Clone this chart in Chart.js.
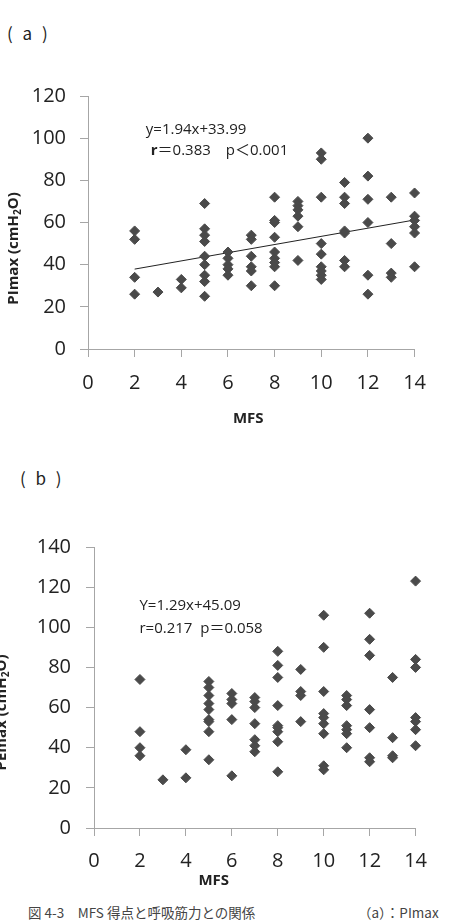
<!DOCTYPE html>
<html lang="ja">
<head>
<meta charset="utf-8">
<script src="https://cdn.jsdelivr.net/npm/chart.js@4.4.1/dist/chart.umd.min.js"></script>
<style>
  html, body { margin: 0; padding: 0; background: #fff; }
  body { width: 465px; height: 924px; position: relative; overflow: hidden; font-family: "Noto Sans CJK JP", sans-serif; }
  .panel { position: absolute; font-size: 17px; color: #222; letter-spacing: 3px; }
  #wrapA { position: absolute; left: 0; top: 70px; width: 440px; height: 370px; }
  #wrapB { position: absolute; left: -12px; top: 520px; width: 452px; height: 380px; }
  .caption { position: absolute; top: 902px; font-size: 13.5px; color: #444; white-space: nowrap; }
</style>
</head>
<body>
<div class="panel" style="left:7px; top:20px;">( a )</div>
<div class="panel" style="left:20px; top:465px;">( b )</div>
<div id="wrapA"><canvas id="chartA" width="440" height="370"></canvas></div>
<div id="wrapB"><canvas id="chartB" width="452" height="380"></canvas></div>
<div class="caption" style="left:28px;">図 4-3　MFS 得点と呼吸筋力との関係</div>
<div class="caption" style="left:358px;">（a）：PImax</div>
<script>
// (a) MFS score vs PImax, one entry per subject
const mfsA = [
  2, 2, 2, 2,
  3,
  4, 4,
  5, 5, 5, 5, 5, 5, 5, 5, 5,
  6, 6, 6, 6, 6,
  7, 7, 7, 7, 7, 7,
  8, 8, 8, 8, 8, 8, 8, 8, 8,
  9, 9, 9, 9, 9, 9,
  10, 10, 10, 10, 10, 10, 10, 10, 10,
  11, 11, 11, 11, 11, 11, 11,
  12, 12, 12, 12, 12, 12,
  13, 13, 13, 13,
  14, 14, 14, 14, 14, 14
];
const piMax = [
  56, 52, 34, 26,
  27,
  33, 29,
  69, 57, 54, 51, 44, 40, 35, 32, 25,
  46, 43, 40, 38, 35,
  54, 52, 44, 39, 37, 30,
  72, 61, 60, 53, 46, 43, 41, 39, 30,
  70, 68, 66, 63, 58, 42,
  93, 90, 72, 50, 45, 39, 37, 35, 33,
  79, 72, 69, 56, 55, 42, 39,
  100, 82, 71, 60, 35, 26,
  72, 50, 36, 34,
  74, 63, 61, 58, 55, 39
];
// regression line ends for (a)
const trendX = [2, 14];
const trendY = [37.9, 61.2];

// (b) MFS score vs PEmax
const mfsB = [
  2, 2, 2, 2,
  3,
  4, 4,
  5, 5, 5, 5, 5, 5, 5, 5, 5,
  6, 6, 6, 6, 6,
  7, 7, 7, 7, 7, 7, 7,
  8, 8, 8, 8, 8, 8, 8, 8, 8,
  9, 9, 9, 9,
  10, 10, 10, 10, 10, 10, 10, 10, 10,
  11, 11, 11, 11, 11, 11, 11,
  12, 12, 12, 12, 12, 12, 12,
  13, 13, 13, 13,
  14, 14, 14, 14, 14, 14, 14
];
const peMax = [
  74, 48, 40, 36,
  24,
  39, 25,
  73, 70, 66, 62, 59, 54, 53, 48, 34,
  67, 64, 62, 54, 26,
  65, 63, 60, 52, 44, 41, 38,
  88, 81, 75, 61, 51, 50, 48, 43, 28,
  79, 68, 66, 53,
  106, 90, 68, 57, 55, 52, 47, 31, 29,
  66, 64, 61, 51, 49, 47, 40,
  107, 94, 86, 59, 50, 35, 33,
  75, 45, 36, 35,
  123, 84, 80, 55, 53, 49, 41
];

const xTicks = [0, 2, 4, 6, 8, 10, 12, 14];

const markColor = '#4a4a4a';
const axisColor = '#a6a6a6';
const tickFont = { family: "'Open Sans', sans-serif", size: 20 };

// draws the fit note, the rotated y title (with subscript) and the x title
const extraText = {
  id: 'extraText',
  afterDraw(chart, args, opts) {
    const ctx = chart.ctx;
    const xs = chart.scales.x, ys = chart.scales.y;
    const area = chart.chartArea;
    ctx.save();
    ctx.fillStyle = '#222';
    ctx.textBaseline = 'middle';
    ctx.textAlign = 'left';

    opts.notes.forEach(n => {
      let px = xs.getPixelForValue(n.x);
      const py = ys.getPixelForValue(n.y);
      n.parts.forEach(p => {
        ctx.font = (p.bold ? 'bold ' : '') + "15px 'Open Sans', 'Noto Sans CJK JP', sans-serif";
        ctx.fillText(p.text, px, py);
        px += ctx.measureText(p.text).width;
      });
    });

    // x title
    ctx.font = "bold 15px 'Open Sans', sans-serif";
    ctx.textAlign = 'center';
    ctx.fillText(opts.xTitle, (area.left + area.right) / 2 + opts.xTitleShift, opts.xTitleY);

    // y title, reads bottom to top
    ctx.textAlign = 'left';
    const big = "bold 15px 'Open Sans', sans-serif";
    const small = "bold 10px 'Open Sans', sans-serif";
    const parts = [[opts.yTitle[0], big, 0], ['2', small, 4], ['O)', big, 0]];
    let total = 0;
    parts.forEach(p => { ctx.font = p[1]; total += ctx.measureText(p[0]).width; });
    ctx.translate(opts.yTitleX, (area.top + area.bottom) / 2 + opts.yTitleShift);
    ctx.rotate(-Math.PI / 2);
    let tx = -total / 2;
    parts.forEach(p => {
      ctx.font = p[1];
      ctx.fillText(p[0], tx, p[2]);
      tx += ctx.measureText(p[0]).width;
    });
    ctx.restore();
  }
};

function axisOpts(max, fitSize, tickPad) {
  return {
    type: 'linear',
    min: 0,
    max: max,
    ticks: { stepSize: 20, color: '#222', font: tickFont, padding: tickPad },
    grid: { drawOnChartArea: false, drawTicks: true, tickLength: 8, color: axisColor },
    border: { color: axisColor },
    afterFit: s => { s.width = fitSize; }
  };
}

function xAxisOpts(fitSize, tickPad) {
  return {
    type: 'linear',
    min: 0,
    max: 14,
    afterBuildTicks: s => { s.ticks = xTicks.map(v => ({ value: v })); },
    ticks: { color: '#222', font: tickFont, padding: tickPad },
    grid: { drawOnChartArea: false, drawTicks: true, tickLength: 8, color: axisColor },
    border: { color: axisColor },
    afterFit: s => { s.height = fitSize; }
  };
}

function scatterSet(xs, ys) {
  return {
    type: 'scatter',
    data: xs.map((x, i) => ({ x: x, y: ys[i] })),
    pointStyle: 'rectRot',
    pointRadius: 5,
    pointHoverRadius: 5,
    borderWidth: 1,
    backgroundColor: markColor,
    borderColor: markColor,
    clip: false
  };
}

new Chart(document.getElementById('chartA'), {
  type: 'scatter',
  data: {
    datasets: [
      scatterSet(mfsA, piMax),
      {
        type: 'line',
        data: trendX.map((x, i) => ({ x: x, y: trendY[i] })),
        borderColor: '#222',
        borderWidth: 1,
        pointRadius: 0,
        fill: false
      }
    ]
  },
  options: {
    responsive: false,
    animation: false,
    layout: { padding: { top: 13, right: 19, left: 0, bottom: 0 } },
    plugins: {
      legend: { display: false },
      tooltip: { enabled: false },
      extraText: {
        notes: [
          { x: 2.48, y: 104, parts: [{ text: 'y=1.94x+33.99' }] },
          { x: 2.69, y: 94, parts: [{ text: 'r', bold: true }, { text: '＝0.383　p＜0.001' }] }
        ],
        xTitle: 'MFS', xTitleShift: -3, xTitleY: 349,
        yTitle: ['PImax (cmH'], yTitleX: 14, yTitleShift: 26
      }
    },
    scales: {
      x: xAxisOpts(91, 14),
      y: axisOpts(120, 88, 14)
    }
  },
  plugins: [extraText]
});

new Chart(document.getElementById('chartB'), {
  type: 'scatter',
  data: { datasets: [scatterSet(mfsB, peMax)] },
  options: {
    responsive: false,
    animation: false,
    layout: { padding: { top: 26, right: 21, left: 0, bottom: 0 } },
    plugins: {
      legend: { display: false },
      tooltip: { enabled: false },
      extraText: {
        notes: [
          { x: 1.98, y: 110.7, parts: [{ text: 'Y=1.29x+45.09' }] },
          { x: 1.98, y: 99.3, parts: [{ text: 'r=0.217  p＝0.058' }] }
        ],
        xTitle: 'MFS', xTitleShift: -41, xTitleY: 361,
        yTitle: ['PEmax (cmH'], yTitleX: 14, yTitleShift: 25
      }
    },
    scales: {
      x: xAxisOpts(72, 13),
      y: axisOpts(140, 106, 15)
    }
  },
  plugins: [extraText]
});
</script>
</body>
</html>
